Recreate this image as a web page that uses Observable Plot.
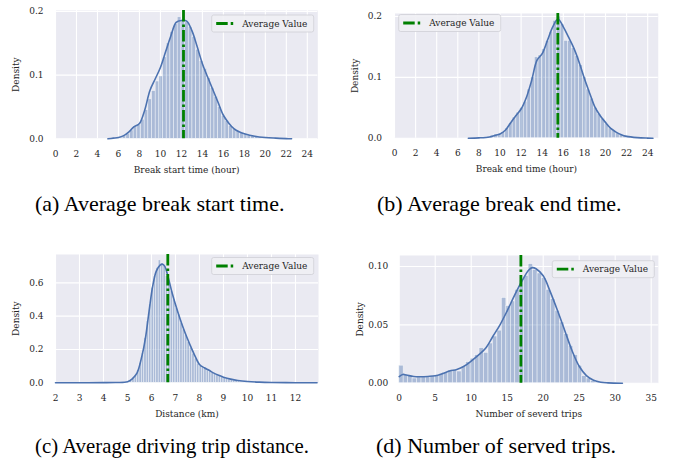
<!DOCTYPE html>
<html><head><meta charset="utf-8">
<script src="https://cdn.jsdelivr.net/npm/d3@7"></script>
<script src="https://cdn.jsdelivr.net/npm/@observablehq/plot@0.6"></script>
<style>
html,body{margin:0;padding:0;background:#fff;}
#wrap{position:relative;width:678px;height:464px;overflow:hidden;}
.panel{position:absolute;}
#overlay{position:absolute;left:0;top:0;pointer-events:none;}
</style></head><body><div id="wrap"></div>
<script>
// ---------- data ----------
const legendLabel = "Average Value";
const captions = ["(a) Average break start time.", "(b) Average break end time.", "(c) Average driving trip distance.", "(d) Number of served trips."];
const xLabels = ["Break start time (hour)", "Break end time (hour)", "Distance (km)", "Number of severd trips"];
const yLabel = "Density";

// (a) break start time
const meanA = 12.2;
const binLoA = 5.0, binWA = 0.35;
const histA = [0, 0, 0.001, 0.002, 0.004, 0.008, 0.013, 0.020, 0.022, 0.030,
  0.045, 0.062, 0.075, 0.090, 0.098, 0.128, 0.150, 0.168, 0.180, 0.191,
  0.186, 0.183, 0.176, 0.160, 0.140, 0.122, 0.110, 0.095, 0.080, 0.066,
  0.050, 0.036, 0.028, 0.020, 0.015, 0.012, 0.009, 0.007, 0.005, 0.004,
  0.003, 0.002, 0.002, 0.0015, 0.001, 0.001, 0.0005, 0.0005, 0.0003, 0.0003];
const kdeAx = [5, 5.5, 6, 6.5, 7, 7.5, 8, 8.5, 9, 9.5, 10, 10.5, 11, 11.5, 12, 12.5, 13, 13.5, 14, 14.5, 15, 15.5, 16, 16.5, 17, 17.5, 18, 19, 20, 21, 22, 22.5];
const kdeAy = [0, 0.001, 0.002, 0.005, 0.011, 0.019, 0.024, 0.045, 0.076, 0.094, 0.112, 0.137, 0.162, 0.183, 0.186, 0.185, 0.170, 0.145, 0.118, 0.097, 0.077, 0.057, 0.037, 0.025, 0.016, 0.011, 0.008, 0.004, 0.002, 0.001, 0.0003, 0];

// (b) break end time
const meanB = 15.48;
const binLoB = 7.0, binWB = 0.35;
const histB = [0, 0, 0.0005, 0.001, 0.0015, 0.002, 0.004, 0.006, 0.007, 0.010,
  0.016, 0.025, 0.034, 0.042, 0.050, 0.060, 0.080, 0.100, 0.133, 0.136,
  0.146, 0.160, 0.175, 0.193, 0.200, 0.187, 0.160, 0.160, 0.148, 0.135,
  0.120, 0.100, 0.080, 0.065, 0.050, 0.040, 0.032, 0.023, 0.016, 0.012,
  0.008, 0.005, 0.004, 0.002, 0.0015, 0.001, 0.0008, 0.0005, 0.0003, 0.0002];
const kdeBx = [7, 8, 9, 9.5, 10, 10.5, 11, 11.5, 12, 12.5, 13, 13.5, 14, 14.5, 15, 15.5, 16, 16.5, 17, 17.5, 18, 18.5, 19, 19.5, 20, 20.5, 21, 21.5, 22, 23, 24, 24.5];
const kdeBy = [0, 0.0005, 0.002, 0.0045, 0.007, 0.013, 0.025, 0.037, 0.048, 0.067, 0.095, 0.128, 0.139, 0.161, 0.183, 0.196, 0.183, 0.166, 0.148, 0.125, 0.098, 0.074, 0.051, 0.037, 0.026, 0.016, 0.010, 0.0056, 0.003, 0.001, 0.0002, 0];

// (c) driving trip distance
const meanC = 6.68;
const binLoC = 5.0, binWC = 0.1;
const histC = [0.004, 0.012, 0.030, 0.048, 0.075, 0.120, 0.180, 0.270, 0.370, 0.470,
  0.570, 0.640, 0.690, 0.735, 0.715, 0.700, 0.640, 0.600, 0.550, 0.500,
  0.450, 0.410, 0.360, 0.320, 0.285, 0.245, 0.210, 0.175, 0.145, 0.115,
  0.100, 0.092, 0.085, 0.075, 0.068, 0.060, 0.052, 0.046, 0.040, 0.034,
  0.028, 0.024, 0.020, 0.016, 0.013, 0.010, 0.008, 0.006, 0.005, 0.004];
const kdeCx = [2, 3, 4, 4.5, 5, 5.2, 5.4, 5.6, 5.75, 5.9, 6.05, 6.2, 6.35, 6.45, 6.55, 6.7, 6.85, 7.0, 7.2, 7.4, 7.6, 7.8, 8.0, 8.2, 8.4, 8.6, 8.8, 9.0, 9.3, 9.6, 10, 10.5, 11, 12, 12.9];
const kdeCy = [0, 0.0005, 0.001, 0.002, 0.006, 0.024, 0.06, 0.16, 0.27, 0.43, 0.58, 0.67, 0.705, 0.712, 0.70, 0.63, 0.545, 0.47, 0.38, 0.30, 0.23, 0.165, 0.11, 0.09, 0.075, 0.058, 0.045, 0.034, 0.022, 0.014, 0.008, 0.004, 0.002, 0.0005, 0];

// (d) number of served trips
const meanD = 16.9;
const binLoD = 0, binWD = 0.62;
const histD = [0.015, 0.007, 0.006, 0.004, 0.005, 0.005, 0.005, 0.006, 0.006, 0.008,
  0.009, 0.011, 0.011, 0.010, 0.014, 0.018, 0.021, 0.024, 0.030, 0.026,
  0.034, 0.040, 0.045, 0.073, 0.066, 0.070, 0.080, 0.088, 0.092, 0.102,
  0.097, 0.094, 0.090, 0.080, 0.072, 0.062, 0.052, 0.042, 0.032, 0.024,
  0.015, 0.006, 0.004, 0.002, 0.001, 0.001, 0.0005, 0.0005, 0.0003, 0.0003];
const kdeDx = [0, 0.5, 1, 2, 3, 4, 5, 6, 7, 8, 9, 10, 11, 12, 13, 14, 15, 16, 17, 18, 18.5, 19, 20, 21, 22, 23, 24, 25, 26, 27, 28, 29, 31];
const kdeDy = [0.0057, 0.0075, 0.007, 0.0057, 0.0055, 0.0058, 0.0064, 0.0082, 0.0105, 0.0118, 0.0145, 0.019, 0.024, 0.030, 0.040, 0.050, 0.062, 0.075, 0.087, 0.097, 0.099, 0.098, 0.092, 0.078, 0.062, 0.045, 0.028, 0.0145, 0.0065, 0.0025, 0.0008, 0.0003, 0];

// tick values
const xTicksAB = [0, 2, 4, 6, 8, 10, 12, 14, 16, 18, 20, 22, 24];
const yTicksAB = [0, 0.1, 0.2];
const xTicksC = [2, 3, 4, 5, 6, 7, 8, 9, 10, 11, 12];
const yTicksC = [0, 0.2, 0.4, 0.6];
const xTicksD = [0, 5, 10, 15, 20, 25, 30, 35];
const yTicksD = [0, 0.05, 0.10];

// ---------- layout ----------
const BG = "#EAEAF2", BLUE = "#4C72B0", GREEN = "#008000", INK = "#262626";
const panels = [
  {left: 0, top: 0, mL: 55, mR: 21.7, mT: 10, mB: 41.7, xDom: [0, 25], yDom: [0, 0.2016], xT: xTicksAB, yT: yTicksAB, fmt: ".1f",
   hist: histA, lo: binLoA, bw: binWA, kx: kdeAx, ky: kdeAy, mean: meanA, xl: xLabels[0], yPad: 12, leg: [211.7, 15]},
  {left: 339, top: 0, mL: 55, mR: 20.25, mT: 13, mB: 42.3, xDom: [0, 25], yDom: [0, 0.205], xT: xTicksAB, yT: yTicksAB, fmt: ".1f",
   hist: histB, lo: binLoB, bw: binWB, kx: kdeBx, ky: kdeBy, mean: meanB, xl: xLabels[1], yPad: 12.5, leg: [398.7, 14.5]},
  {left: 0, top: 240, mL: 55, mR: 21, mT: 14, mB: 37.7, xDom: [2, 12.96], yDom: [0, 0.77], xT: xTicksC, yT: yTicksC, fmt: ".1f",
   hist: histC, lo: binLoC, bw: binWC, kx: kdeCx, ky: kdeCy, mean: meanC, xl: xLabels[2], yPad: 12, leg: [211.7, 257.5]},
  {left: 339, top: 240, mL: 59.7, mR: 20.1, mT: 15, mB: 37.3, xDom: [0, 36], yDom: [0, 0.1094], xT: xTicksD, yT: yTicksD, fmt: ".2f",
   hist: histD, lo: binLoD, bw: binWD, kx: kdeDx, ky: kdeDy, mean: meanD, xl: xLabels[3], yPad: 11, leg: [552.3, 260.7]}
];
const W = 339, H = 180;
const wrap = document.getElementById("wrap");

for (const p of panels) {
  const bars = p.hist.map((v, i) => ({x1: p.lo + i * p.bw, x2: p.lo + (i + 1) * p.bw, y: v}));
  const kde = p.kx.map((x, i) => ({x, y: p.ky[i]}));
  const chart = Plot.plot({
    width: W, height: H,
    marginLeft: p.mL, marginRight: p.mR, marginTop: p.mT, marginBottom: p.mB,
    style: {fontFamily: "'DejaVu Serif'", fontSize: "9px", color: INK, background: "transparent", overflow: "visible"},
    x: {domain: p.xDom},
    y: {domain: p.yDom},
    marks: [
      Plot.frame({fill: BG, stroke: "none"}),
      Plot.gridX(p.xT, {stroke: "white", strokeOpacity: 1, strokeWidth: 1.1}),
      Plot.gridY(p.yT, {stroke: "white", strokeOpacity: 1, strokeWidth: 1.1}),
      Plot.rectY(bars, {x1: "x1", x2: "x2", y: "y", fill: BLUE, fillOpacity: 0.4, stroke: "white", strokeOpacity: 0.7, strokeWidth: 0.6}),
      Plot.line(kde, {x: "x", y: "y", stroke: BLUE, strokeWidth: 1.6, curve: "catmull-rom"}),
      Plot.ruleX([p.mean], {stroke: GREEN, strokeWidth: 2.8, strokeDasharray: "11.5,3,2.5,3"}),
      Plot.axisX(p.xT, {tickSize: 0, tickPadding: 11.5, fontSize: 9, label: p.xl, labelAnchor: "center", labelOffset: 34, labelArrow: "none"}),
      Plot.axisY(p.yT, {tickSize: 0, tickPadding: p.yPad, fontSize: 9, tickFormat: d3.format(p.fmt), label: yLabel, labelAnchor: "center", labelOffset: 43, labelArrow: "none"})
    ]
  });
  chart.classList.add("panel");
  chart.style.left = p.left + "px";
  chart.style.top = p.top + "px";
  wrap.appendChild(chart);
}

// overlay: legends + subfigure captions
const NS = "http://www.w3.org/2000/svg";
const ov = document.createElementNS(NS, "svg");
ov.setAttribute("id", "overlay");
ov.setAttribute("width", 678);
ov.setAttribute("height", 464);
function el(tag, attrs, text) {
  const e = document.createElementNS(NS, tag);
  for (const k in attrs) e.setAttribute(k, attrs[k]);
  if (text != null) e.textContent = text;
  ov.appendChild(e);
  return e;
}
for (const p of panels) {
  const [lx, ly] = p.leg;
  el("rect", {x: lx, y: ly, width: 102, height: 17, rx: 2, fill: "#EFEFF4", "fill-opacity": 0.9, stroke: "#CFCFD6", "stroke-width": 0.8});
  el("line", {x1: lx + 4.5, x2: lx + 23.5, y1: ly + 8.5, y2: ly + 8.5, stroke: GREEN, "stroke-width": 2.8, "stroke-dasharray": "11.5,3,2.5,3"});
  el("text", {x: lx + 30.5, y: ly + 11.7, "font-family": "DejaVu Serif", "font-size": 9, fill: INK}, legendLabel);
}
const capPos = [[35, 211], [377, 211], [35, 453], [376, 453]];
const capLen = [null, null, 274, null];
captions.forEach((c, i) => {
  const attrs = {x: capPos[i][0], y: capPos[i][1], "font-family": "Liberation Serif", "font-size": 22, fill: "#000"};
  if (capLen[i]) { attrs.textLength = capLen[i]; attrs.lengthAdjust = "spacingAndGlyphs"; }
  el("text", attrs, c);
});
wrap.appendChild(ov);
</script></body></html>
